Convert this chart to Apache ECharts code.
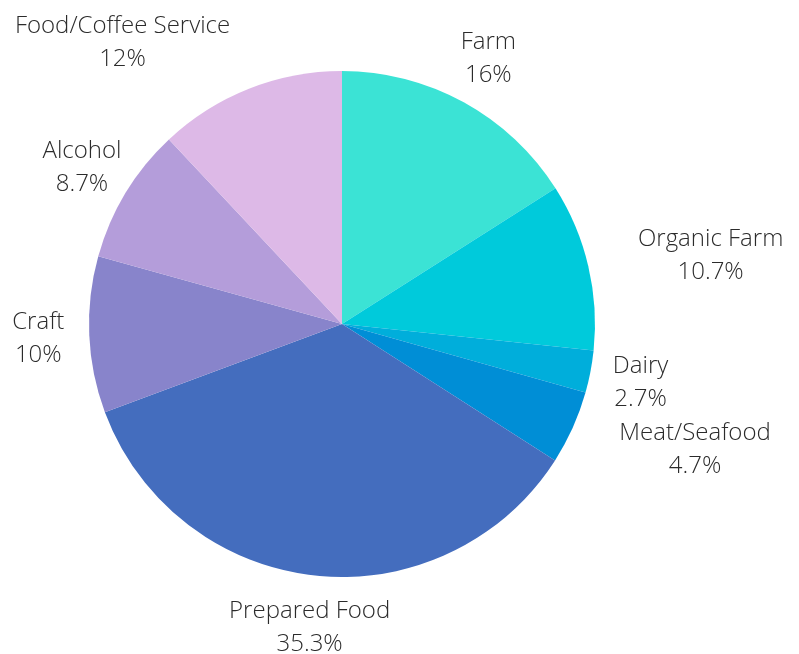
<!DOCTYPE html>
<html>
<head>
<meta charset="utf-8">
<script src="https://cdn.jsdelivr.net/npm/echarts@6/dist/echarts.min.js"></script>
<style>
html,body{margin:0;padding:0;background:#fff;}
#chart{width:799px;height:654px;}
</style>
</head>
<body>
<div id="chart"></div>
<script>
var categories = ['Farm', 'Organic Farm', 'Dairy', 'Meat/Seafood', 'Prepared Food', 'Craft', 'Alcohol', 'Food/Coffee Service'];
var values = [16, 10.7, 2.7, 4.7, 35.3, 10, 8.7, 12];
var colors = ['#3BE3D5', '#00CADB', '#00AEDB', '#008ED6', '#446DBE', '#8884CB', '#B49DDA', '#DDB9E7'];

var CX = 342, CY = 324, R = 253, LABEL_DIST = 304;
var total = values.reduce(function (a, b) { return a + b; }, 0);
var midAngles = [];
(function () {
  var acc = 0;
  for (var i = 0; i < values.length; i++) {
    midAngles.push((acc + values[i] / 2) / total * Math.PI * 2);
    acc += values[i];
  }
})();

function boxHitsCircle(x0, y0, x1, y1) {
  var nx = Math.max(x0, Math.min(CX, x1));
  var ny = Math.max(y0, Math.min(CY, y1));
  var dx = nx - CX, dy = ny - CY;
  return dx * dx + dy * dy < (R - 2) * (R - 2);
}

var chart = echarts.init(document.getElementById('chart'));
chart.setOption({
  animation: false,
  series: [{
    type: 'pie',
    center: [CX, CY],
    radius: R,
    startAngle: 90,
    clockwise: true,
    avoidLabelOverlap: false,
    itemStyle: { borderWidth: 0 },
    emphasis: { disabled: true },
    label: {
      show: true,
      position: 'outside',
      formatter: function (p) { return p.name + '\n' + p.value + '%'; },
      fontFamily: 'Open Sans',
      fontWeight: 300,
      fontSize: 24,
      lineHeight: 33,
      color: '#2b2b2b',
      align: 'center'
    },
    labelLine: { show: false },
    labelLayout: function (params) {
      var i = params.dataIndex;
      var a = midAngles[i];
      var ax = CX + LABEL_DIST * Math.sin(a);
      var ay = CY - LABEL_DIST * Math.cos(a);
      var w = params.labelRect.width, h = params.labelRect.height;
      var x = ax;
      if (boxHitsCircle(ax - w / 2, ay - h / 2, ax + w / 2, ay + h / 2)) {
        x = Math.sin(a) >= 0 ? ax + w / 2 : ax - w / 2;
      }
      return { x: x, y: ay + 1.5, align: 'center', verticalAlign: 'middle' };
    },
    data: categories.map(function (c, i) {
      return { name: c, value: values[i], itemStyle: { color: colors[i] } };
    })
  }]
});
</script>
</body>
</html>
